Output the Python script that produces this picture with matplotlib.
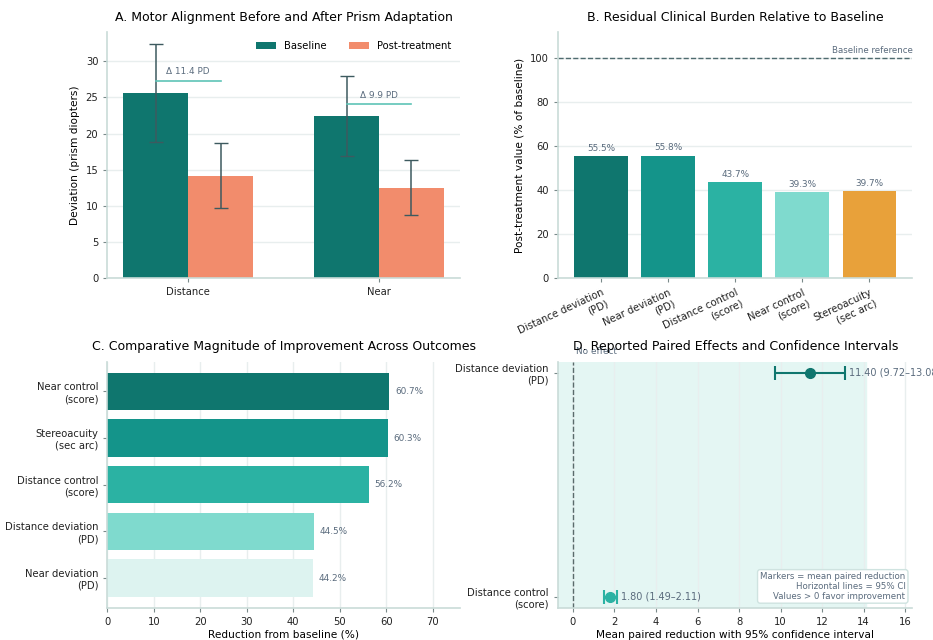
import matplotlib
matplotlib.use("Agg")
import matplotlib.pyplot as plt
import matplotlib.transforms as mtransforms
import numpy as np

# ---- data -------------------------------------------------------------
a_groups = ["Distance", "Near"]
a_baseline = [25.6, 22.4]
a_baseline_err = [6.8, 5.5]
a_post = [14.2, 12.5]
a_post_err = [4.5, 3.8]
a_delta = [11.4, 9.9]

b_labels = ["Distance deviation\n(PD)", "Near deviation\n(PD)", "Distance control\n(score)",
            "Near control\n(score)", "Stereoacuity\n(sec arc)"]
b_values = [55.5, 55.8, 43.7, 39.3, 39.7]

c_labels = ["Near control\n(score)", "Stereoacuity\n(sec arc)", "Distance control\n(score)",
            "Distance deviation\n(PD)", "Near deviation\n(PD)"]
c_values = [60.7, 60.3, 56.2, 44.5, 44.2]

d_labels = ["Distance deviation\n(PD)", "Distance control\n(score)"]
d_mean = [11.40, 1.80]
d_lo = [9.72, 1.49]
d_hi = [13.08, 2.11]

# ---- style ------------------------------------------------------------
DARK = "#0f766e"
TEAL = "#14948a"
MID = "#2bb2a3"
LIGHT = "#7fdace"
PALE = "#ddf3f0"
ORANGE = "#e8a13a"
SALMON = "#f28c6c"
SPINE = "#c9dbd8"
GRID = "#e8eeee"
NOTE = "#5a6b7d"
TXT = "#222222"

TICK = 7.2
LAB = 7.6
TITLE = 9.0
ANN = 6.4

plt.rcParams["font.family"] = ["DejaVu Sans"]
plt.rcParams["font.size"] = TICK


def tidy(ax, grid_axis="y"):
    for s in ["top", "right"]:
        ax.spines[s].set_visible(False)
    for s in ["left", "bottom"]:
        ax.spines[s].set_color(SPINE)
        ax.spines[s].set_linewidth(1.2)
    ax.tick_params(colors=TXT, labelsize=TICK, length=3, color="#7a8a8a")
    ax.grid(axis=grid_axis, color=GRID, linewidth=1)
    ax.set_axisbelow(True)


fig = plt.figure(figsize=(9.33, 6.4), dpi=100)
axA = fig.add_axes([0.115, 0.565, 0.378, 0.385])
axB = fig.add_axes([0.598, 0.565, 0.380, 0.385])
axC = fig.add_axes([0.115, 0.050, 0.378, 0.385])
axD = fig.add_axes([0.598, 0.050, 0.380, 0.385])

# ---- A ----------------------------------------------------------------
x = np.arange(len(a_groups))
w = 0.34
axA.bar(x - w / 2, a_baseline, w, color=DARK, label="Baseline",
        yerr=a_baseline_err, ecolor="#3d5a5f", capsize=5, error_kw={"elinewidth": 1.1})
axA.bar(x + w / 2, a_post, w, color=SALMON, label="Post-treatment",
        yerr=a_post_err, ecolor="#3d5a5f", capsize=5, error_kw={"elinewidth": 1.1})
for i in range(len(a_groups)):
    yl = max(a_baseline[i], a_post[i]) + 1.7
    axA.plot([x[i] - w / 2, x[i] + w / 2], [yl, yl], color="#5ec4b6", lw=1.2)
    axA.text(x[i], yl + 0.6, "Δ %.1f PD" % a_delta[i], ha="center", va="bottom",
             fontsize=ANN, color=NOTE)
axA.set_xticks(x)
axA.set_xticklabels(a_groups)
axA.set_ylabel("Deviation (prism diopters)", fontsize=LAB)
axA.set_title("A. Motor Alignment Before and After Prism Adaptation", fontsize=TITLE, pad=8)
axA.legend(loc="upper right", ncol=2, frameon=False, fontsize=7.2, columnspacing=2.2)
tidy(axA)

# ---- B ----------------------------------------------------------------
xb = np.arange(len(b_labels))
axB.bar(xb, b_values, 0.8, color=[DARK, TEAL, MID, LIGHT, ORANGE])
for i, v in enumerate(b_values):
    axB.text(xb[i], v + 1.5, "%.1f%%" % v, ha="center", va="bottom", fontsize=ANN, color=NOTE)
axB.axhline(100, color="#4f6b6f", ls="--", lw=1)
trB = mtransforms.blended_transform_factory(axB.transAxes, axB.transData)
axB.text(1.0, 101.5, "Baseline reference", transform=trB, ha="right", va="bottom",
         fontsize=6.2, color=NOTE)
axB.set_ylim(0, 112)
axB.set_xticks(xb)
axB.set_xticklabels(b_labels, rotation=25, ha="right", rotation_mode="anchor", fontsize=TICK)
axB.set_ylabel("Post-treatment value (% of baseline)", fontsize=LAB)
axB.set_title("B. Residual Clinical Burden Relative to Baseline", fontsize=TITLE, pad=8)
tidy(axB)

# ---- C ----------------------------------------------------------------
yc = np.arange(len(c_labels))
axC.barh(yc, c_values, 0.8, color=[DARK, TEAL, MID, LIGHT, PALE])
for i, v in enumerate(c_values):
    axC.text(v + 1.2, yc[i], "%.1f%%" % v, ha="left", va="center", fontsize=ANN, color=NOTE)
axC.set_yticks(yc)
axC.set_yticklabels(c_labels)
axC.invert_yaxis()
axC.set_xlim(0, max(c_values) * 1.25)
axC.set_xlabel("Reduction from baseline (%)", fontsize=LAB, labelpad=2)
axC.set_title("C. Comparative Magnitude of Improvement Across Outcomes", fontsize=TITLE, pad=8)
tidy(axC, grid_axis="x")

# ---- D ----------------------------------------------------------------
yd = np.arange(len(d_labels))
xmin, xmax = -0.72, max(d_hi) * 1.25
axD.axvspan(xmin, max(d_hi) * 1.08, color="#e4f6f3", zorder=0)
axD.axvline(0, color="#5a6b6b", ls="--", lw=1)
axD.text(0.15, -0.075, "No effect", ha="left", va="bottom", fontsize=ANN, color=NOTE)
d_colors = [DARK, MID]
for i in range(len(d_labels)):
    axD.errorbar(d_mean[i], yd[i],
                 xerr=[[d_mean[i] - d_lo[i]], [d_hi[i] - d_mean[i]]],
                 fmt="o", color=d_colors[i], ms=7, capsize=5, elinewidth=1.5, capthick=1.5)
    axD.text(d_hi[i] + 0.2, yd[i], "%.2f (%.2f–%.2f)" % (d_mean[i], d_lo[i], d_hi[i]),
             ha="left", va="center", fontsize=7, color=NOTE, clip_on=False)
axD.text(0.98, 0.03, "Markers = mean paired reduction\nHorizontal lines = 95% CI\n"
         "Values > 0 favor improvement", transform=axD.transAxes, ha="right", va="bottom",
         fontsize=6.2, color=NOTE, linespacing=1.1,
         bbox=dict(boxstyle="round,pad=0.3", fc="white", ec="#cfe3e0", lw=1))
axD.set_yticks(yd)
axD.set_yticklabels(d_labels)
axD.set_ylim(1.05, -0.05)
axD.set_xlim(xmin, xmax)
axD.set_xticks(np.arange(0, 17, 2))
axD.set_xlabel("Mean paired reduction with 95% confidence interval", fontsize=LAB, labelpad=2)
axD.set_title("D. Reported Paired Effects and Confidence Intervals", fontsize=TITLE, pad=8)
tidy(axD, grid_axis="x")

fig.savefig("out.png", dpi=100, facecolor="white")
